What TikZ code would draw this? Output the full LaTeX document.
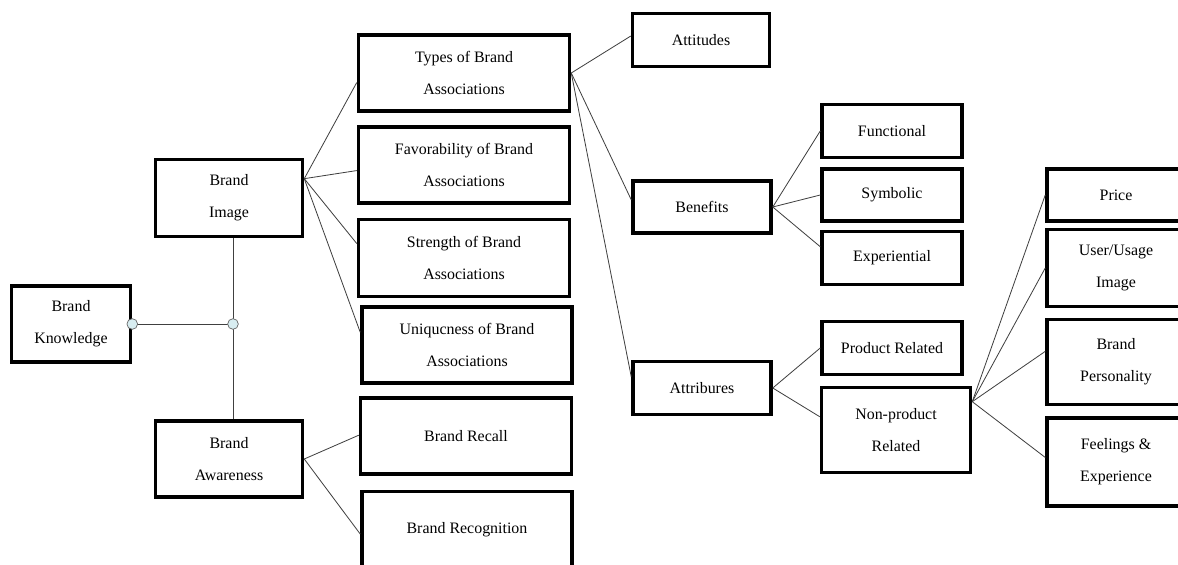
\documentclass[tikz,border=0pt]{standalone}
\usepackage{fontspec}
\setmainfont{Liberation Serif}
\usetikzlibrary{calc}
\definecolor{jointfill}{HTML}{D8EDF1}
\begin{document}
\begin{tikzpicture}[x=0.03cm, y=-0.03cm,
    box/.style={draw, line width=3pt, align=center, inner sep=0pt,
        font=\fontsize{13.6}{27.5}\selectfont},
    link/.style={draw=black!75, line width=0.7pt},
    joint/.style={circle, draw=black!60, fill=jointfill, line width=0.6pt,
        inner sep=0pt, minimum size=0.32cm}]
    % page size
    \useasboundingbox (0, 0) rectangle (1178, 565);
    % left column
    \node [box, minimum width=3.57cm, minimum height=2.28cm] (know) at (71, 324) {Brand\\Knowledge};
    \node [box, minimum width=4.41cm, minimum height=2.31cm] (img) at (229, 198) {Brand\\Image};
    \node [box, minimum width=4.41cm, minimum height=2.28cm] (aware) at (229, 459) {Brand\\Awareness};
    % association boxes
    \node [box, minimum width=6.33cm, minimum height=2.28cm] (types) at (464, 73) {Types of Brand\\Associations};
    \node [box, minimum width=6.33cm, minimum height=2.28cm] (favor) at (464, 165) {Favorability of Brand\\Associations};
    \node [box, minimum width=6.33cm, minimum height=2.31cm] (strength) at (464, 258) {Strength of Brand\\Associations};
    \node [box, minimum width=6.30cm, minimum height=2.28cm] (unique) at (467, 345) {Uniqucness of Brand\\Associations};
    % awareness boxes
    \node [box, minimum width=6.33cm, minimum height=2.28cm] (recall) at (466, 436) {Brand Recall};
    \node [box, minimum width=6.30cm, minimum height=2.31cm] (recog) at (467, 530) {Brand Recognition};
    % types of associations
    \node [box, minimum width=4.11cm, minimum height=1.59cm] (attit) at (701, 40) {Attitudes};
    \node [box, minimum width=4.14cm, minimum height=1.56cm] (benef) at (702, 207) {Benefits};
    \node [box, minimum width=4.14cm, minimum height=1.59cm] (attrib) at (702, 388) {Attribures};
    % benefits
    \node [box, minimum width=4.2cm, minimum height=1.59cm] (func) at (892, 131) {Functional};
    \node [box, minimum width=4.2cm, minimum height=1.56cm] (symb) at (892, 195) {Symbolic};
    \node [box, minimum width=4.2cm, minimum height=1.59cm] (exper) at (892, 258) {Experiential};
    % attributes
    \node [box, minimum width=4.2cm, minimum height=1.59cm] (prod) at (892, 348) {Product Related};
    \node [box, minimum width=4.47cm, minimum height=2.55cm] (nonprod) at (896, 430) {Non-product\\Related};
    % non-product related
    \node [box, minimum width=4.14cm, minimum height=1.56cm] (price) at (1116, 195) {Price};
    \node [box, minimum width=4.14cm, minimum height=2.31cm] (user) at (1116, 268) {User/Usage\\Image};
    \node [box, minimum width=4.14cm, minimum height=2.55cm] (person) at (1116, 362) {Brand\\Personality};
    \node [box, minimum width=4.14cm, minimum height=2.64cm] (feel) at (1116, 462) {Feelings \&\\Experience};
    % knowledge junction
    \coordinate (jtop) at ($(img.south)+(4, 0)$);
    \coordinate (jn) at (jtop |- know.east);
    \draw [link] (jtop) -- (jtop |- aware.north);
    \draw [link] (know.east) -- (jn);
    \node [joint] (jk) at (know.east) {};
    \node [joint] (jm) at (jn) {};
    % brand image links
    \coordinate (imgout) at ($(img.north east)!0.26!(img.south east)$);
    \draw [link] (imgout) -- ($(types.north west)!0.62!(types.south west)$);
    \draw [link] (imgout) -- ($(favor.north west)!0.57!(favor.south west)$);
    \draw [link] (imgout) -- ($(strength.north west)!0.32!(strength.south west)$);
    \draw [link] (imgout) -- ($(unique.north west)!0.34!(unique.south west)$);
    % brand awareness links
    \draw [link] (aware.east) -- ($(recall.north west)!0.49!(recall.south west)$);
    \draw [link] (aware.east) -- ($(recog.north west)!0.55!(recog.south west)$);
    % types links
    \draw [link] (types.east) -- ($(attit.north west)!0.43!(attit.south west)$);
    \draw [link] (types.east) -- ($(benef.north west)!0.37!(benef.south west)$);
    \draw [link] (types.east) -- ($(attrib.north west)!0.3!(attrib.south west)$);
    % benefits links
    \draw [link] (benef.east) -- (func.west);
    \draw [link] (benef.east) -- (symb.west);
    \draw [link] (benef.east) -- ($(exper.north west)!0.3!(exper.south west)$);
    % attributes links
    \draw [link] (attrib.east) -- (prod.west);
    \draw [link] (attrib.east) -- ($(nonprod.north west)!0.35!(nonprod.south west)$);
    % non-product links
    \coordinate (npout) at ($(nonprod.north east)!0.18!(nonprod.south east)$);
    \draw [link] (npout) -- (price.west);
    \draw [link] (npout) -- (user.west);
    \draw [link] (npout) -- ($(person.north west)!0.38!(person.south west)$);
    \draw [link] (npout) -- ($(feel.north west)!0.45!(feel.south west)$);
\end{tikzpicture}
\end{document}
